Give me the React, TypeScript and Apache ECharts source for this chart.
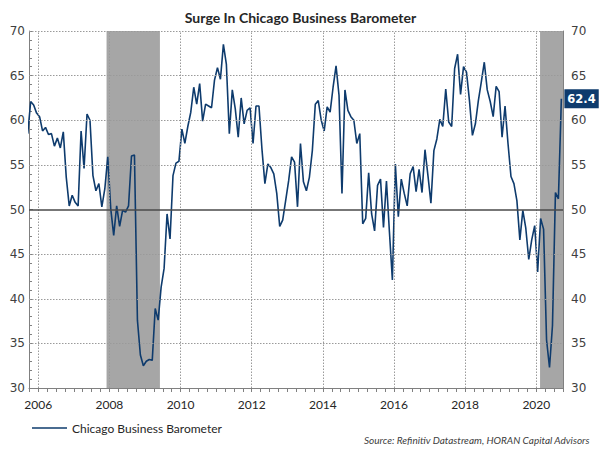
import React, { useEffect, useRef } from "react";
import * as echarts from "echarts";

const titleText = "Surge In Chicago Business Barometer";
const seriesName = "Chicago Business Barometer";
const sourceText = "Source: Refinitiv Datastream, HORAN Capital Advisors";

// monthly values, first value = Sep 2005, last = Sep 2020
const firstMonthOffset = -4; // months relative to Jan 2006
const values = [
  58.5, 62.1, 61.7, 60.8,
  60.4, 58.8, 59.2, 58.4, 58.5, 57.1, 58.0, 56.9, 58.7, 53.6, 50.4, 51.6,
  50.8, 50.4, 58.8, 54.6, 60.7, 60.0, 53.8, 52.1, 52.9, 50.3, 52.3, 55.9,
  50.1, 47.1, 50.4, 48.1, 49.9, 49.7, 50.4, 56.0, 56.1, 37.6, 33.7, 32.5,
  33.0, 33.2, 33.1, 38.9, 37.6, 41.3, 43.4, 49.5, 46.7, 53.8, 55.2, 55.4,
  59.0, 57.4, 59.3, 60.9, 63.7, 61.8, 64.1, 59.9, 61.8, 61.6, 61.4, 64.5,
  65.9, 64.6, 68.5, 66.3, 58.5, 63.4, 61.3, 58.1, 62.5, 59.6, 61.1, 61.4,
  57.4, 61.6, 61.6, 56.8, 52.9, 55.1, 54.7, 54.0, 51.8, 48.1, 48.8, 51.0,
  53.2, 55.9, 55.3, 50.3, 57.4, 53.1, 52.1, 53.6, 56.6, 61.8, 62.2, 60.0,
  58.8, 61.5, 60.9, 63.7, 66.1, 62.8, 51.8, 63.4, 61.1, 60.4, 60.0, 57.4,
  58.5, 48.4, 49.0, 54.1, 49.5, 47.6, 52.7, 53.4, 48.0, 53.2, 47.5, 42.1,
  55.1, 49.2, 53.4, 51.8, 50.4, 54.0, 54.8, 52.0, 54.5, 51.9, 56.7, 53.8,
  50.7, 56.6, 57.9, 60.1, 59.3, 63.5, 59.8, 59.3, 65.8, 67.4, 62.9, 66.0,
  65.4, 62.2, 58.3, 59.6, 62.2, 64.3, 66.5, 63.4, 62.1, 60.4, 63.8, 63.2,
  58.1, 61.6, 57.4, 53.7, 52.9, 51.0, 46.6, 49.9, 47.9, 44.4, 46.6, 48.2,
  43.0, 49.0, 47.8, 35.4, 32.3, 37.0, 51.9, 51.2, 62.4,
];

const yTicks = [30, 35, 40, 45, 50, 55, 60, 65, 70];
const xLabelYears = [2006, 2008, 2010, 2012, 2014, 2016, 2018, 2020];
const recessions = [
  [2007.92, 2009.42],
  [2020.105, 2020.75],
];
const xMin = 2005.74;
const xMax = 2020.75;
const baseLine = 50;

const lineColor = "#0E3B6D";

export default function App() {
  const ref = useRef<HTMLDivElement>(null);

  useEffect(() => {
    document.body.style.margin = "0";
    if (!ref.current) return;
    const chart = echarts.init(ref.current, undefined, { renderer: "svg" });

    const data = values.map((v, i) => [2006 + (i + firstMonthOffset + 0.45) / 12, v]);
    const quarters: number[] = [];
    for (let q = 2005.75; q <= xMax + 1e-6; q += 0.25) quarters.push(q);

    const gridLines: any[] = [];
    yTicks
      .filter((t) => t !== 30 && t !== baseLine)
      .forEach((t) => gridLines.push({ yAxis: t }));
    xLabelYears.forEach((y) => gridLines.push({ xAxis: y }));
    gridLines.push({
      yAxis: baseLine,
      lineStyle: { type: "solid", color: "#4a4a4a", width: 1.6 },
    });

    const last = values[values.length - 1];

    chart.setOption({
      animation: false,
      title: {
        text: titleText,
        left: "center",
        top: 5,
        textStyle: {
          fontFamily: "Lato",
          fontWeight: "bold",
          fontSize: 14,
          color: "#262626",
        },
      },
      grid: { left: 29, right: 38, top: 31, bottom: 62 },
      legend: {
        data: [seriesName],
        left: 27,
        top: 417,
        icon: "rect",
        itemWidth: 35,
        itemHeight: 1.5,
        itemGap: 6,
        textStyle: { fontFamily: "Lato", fontSize: 12, color: "#262626" },
      },
      graphic: [
        {
          type: "text",
          right: 11,
          top: 435,
          style: {
            text: sourceText,
            font: "italic 10px Lato",
            fill: "#404040",
          },
        },
      ],
      xAxis: {
        type: "value",
        min: xMin,
        max: xMax,
        splitLine: { show: false },
        axisLine: { show: true, lineStyle: { color: "#808080", width: 1 } },
        axisTick: {
          show: true,
          customValues: quarters,
          length: 4,
          lineStyle: { color: "#808080" },
        },
        axisLabel: {
          customValues: xLabelYears,
          formatter: (v: number) => String(Math.round(v)),
          margin: 10,
          fontFamily: "Lato",
          fontSize: 12,
          color: "#262626",
        },
      },
      yAxis: [0, 1].map((i) => ({
        type: "value",
        position: i === 0 ? "left" : "right",
        min: 30,
        max: 70,
        interval: 5,
        splitLine: { show: false },
        axisLine: { show: true, lineStyle: { color: "#808080", width: 1 } },
        axisTick: { show: true, inside: true, length: 4, lineStyle: { color: "#808080" } },
        minorTick: { show: true, splitNumber: 5, length: 3, lineStyle: { color: "#808080" } },
        axisLabel: {
          margin: i === 0 ? 4 : 8,
          fontFamily: "DejaVu Sans",
          fontSize: 12,
          color: "#404040",
        },
      })),
      series: [
        {
          type: "line",
          name: "recessions",
          data: data,
          showSymbol: false,
          silent: true,
          lineStyle: { opacity: 0, width: 0 },
          z: 1,
          markArea: {
            silent: true,
            itemStyle: { color: "#A6A6A6", opacity: 1 },
            data: recessions.map(([a, b]) => [{ xAxis: a }, { xAxis: b }]),
          },
        },
        {
          type: "line",
          name: "grid",
          data: data,
          showSymbol: false,
          silent: true,
          lineStyle: { opacity: 0, width: 0 },
          z: 2,
          markLine: {
            silent: true,
            symbol: ["none", "none"],
            label: { show: false },
            lineStyle: { type: [1.5, 1.5], color: "#9a9a9a", width: 1 },
            data: gridLines,
          },
        },
        {
          type: "line",
          name: seriesName,
          data: data,
          showSymbol: false,
          z: 3,
          color: lineColor,
          lineStyle: { color: lineColor, width: 1.6 },
          endLabel: {
            show: true,
            formatter: () => last.toFixed(1),
            backgroundColor: lineColor,
            color: "#ffffff",
            fontFamily: "DejaVu Sans",
            fontWeight: "bold",
            fontSize: 11.5,
            padding: [4, 3, 3, 3],
            distance: 3,
          },
        },
      ],
    });

    return () => chart.dispose();
  }, []);

  return <div ref={ref} style={{ width: 601, height: 450 }} />;
}
